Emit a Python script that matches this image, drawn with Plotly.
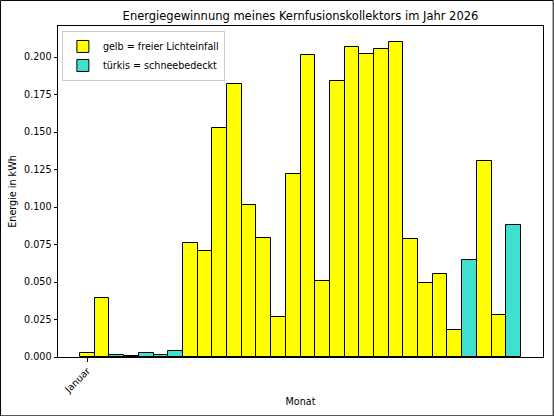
import plotly.graph_objects as go

# Tage im Januar 2026 (Balkenpositionen)
tage = list(range(1, 31))

# Energie pro Tag in kWh
energie = [0.0030, 0.0395, 0.0015, 0.0006, 0.0030, 0.0013, 0.0038, 0.0760, 0.0706, 0.1528,
           0.1817, 0.1015, 0.0796, 0.0269, 0.1222, 0.2015, 0.0509, 0.1839, 0.2065, 0.2021,
           0.2057, 0.2099, 0.0786, 0.0493, 0.0553, 0.0182, 0.0649, 0.1306, 0.0278, 0.0877]

# g = freier Lichteinfall, t = schneebedeckt
zustand = ['g', 'g', 't', 't', 't', 't', 't', 'g', 'g', 'g',
           'g', 'g', 'g', 'g', 'g', 'g', 'g', 'g', 'g', 'g',
           'g', 'g', 'g', 'g', 'g', 'g', 't', 'g', 'g', 't']

y_ticks = [0, 0.025, 0.05, 0.075, 0.1, 0.125, 0.15, 0.175, 0.2]
x_tick_pos = [1]
x_tick_text = ['Januar']

font = 'DejaVu Sans, Verdana, sans-serif'

gelb_x = [t for t, z in zip(tage, zustand) if z == 'g']
gelb_y = [e for e, z in zip(energie, zustand) if z == 'g']
tuerkis_x = [t for t, z in zip(tage, zustand) if z == 't']
tuerkis_y = [e for e, z in zip(energie, zustand) if z == 't']

trace1 = go.Bar(x=gelb_x, y=gelb_y, width=1, name='gelb = freier Lichteinfall',
                marker={'color': '#ffff00', 'line': {'color': 'black', 'width': 1}})
trace2 = go.Bar(x=tuerkis_x, y=tuerkis_y, width=1, name='türkis = schneebedeckt',
                marker={'color': '#40e0d0', 'line': {'color': 'black', 'width': 1}})

fig = go.Figure(data=[trace1, trace2])

W = 554 - 58 - 10.7
H = 416 - 26 - 59.3

fig.update_layout(
    width=554, height=416,
    margin=dict(l=58, r=10.7, t=26, b=59.3, pad=0),
    paper_bgcolor='white', plot_bgcolor='white',
    barmode='overlay', bargap=0,
    font=dict(family=font, size=9.6, color='black'),
    title=dict(text='Energiegewinnung meines Kernfusionskollektors im Jahr 2026',
               font=dict(size=11.5), x=300.5 / 554, xanchor='center',
               y=1 - 16 / 416, yanchor='middle'),
    legend=dict(x=0.008, y=0.985, xanchor='left', yanchor='top',
                bgcolor='rgba(255,255,255,0.8)', bordercolor='#cccccc', borderwidth=1,
                font=dict(size=9.6), tracegroupgap=0, itemwidth=30),
    showlegend=True,
    shapes=[dict(type='rect', xref='paper', yref='paper',
                 x0=(0.5 - 58) / W, x1=(553.5 - 58) / W,
                 y0=-(59.3 - 0.5) / H, y1=1 + (26 - 0.5) / H,
                 line=dict(color='black', width=1), layer='below')],
)

fig.update_xaxes(
    range=[-1, 32], tickvals=x_tick_pos, ticktext=x_tick_text, tickangle=-45,
    ticks='outside', ticklen=3.5, tickwidth=1, tickcolor='black',
    showline=True, linecolor='black', linewidth=1, mirror=True,
    showgrid=False, zeroline=False, automargin=False,
    title=dict(text='Monat', font=dict(size=9.6), standoff=3),
)
fig.update_yaxes(
    range=[0, 0.2207], tickvals=y_ticks, tickformat='.3f',
    ticks='outside', ticklen=3.5, tickwidth=1, tickcolor='black',
    showline=True, linecolor='black', linewidth=1, mirror=True,
    showgrid=False, zeroline=False, automargin=False,
    title=dict(text='Energie in kWh', font=dict(size=9.6), standoff=5),
)

# Seitenrand entfernen, damit die Grafik genau ins Fenster passt
fig.write_html('out.html', config={'displayModeBar': False},
               post_script="document.body.style.margin='0';")
